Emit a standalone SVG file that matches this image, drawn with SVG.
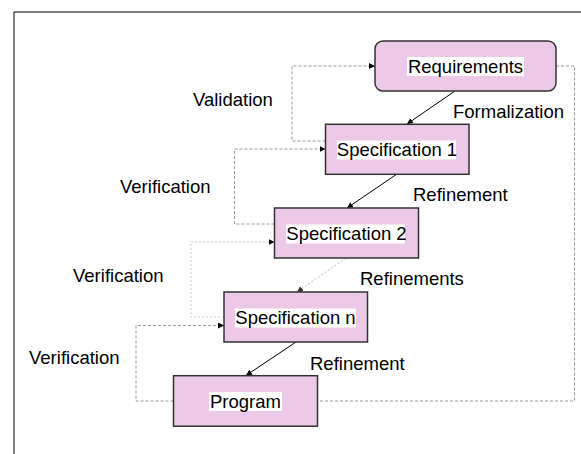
<svg xmlns="http://www.w3.org/2000/svg" width="581" height="454" viewBox="0 0 581 454">
  <style>
    .box { fill: #ecc9e6; stroke: #333; stroke-width: 1.5; }
    .txt { font-family: "Liberation Sans", Arial, sans-serif; font-size: 18.5px; fill: #000; }
    .mid { text-anchor: middle; }
    .hl { fill: #fff; }
    .flow { stroke: #000; stroke-width: 1; fill: none; marker-end: url(#arrow); }
    .flow-faint { stroke: #bbb; stroke-width: 1; fill: none; stroke-dasharray: 2 2; marker-end: url(#arrow-faint); }
    .loop { stroke: #9a9a9a; stroke-width: 1; fill: none; stroke-dasharray: 3 2; marker-end: url(#arrow); }
    .loop-open { stroke: #9a9a9a; stroke-width: 1; fill: none; stroke-dasharray: 3 2; }
    .loop-faint { stroke: #d0d0d0; stroke-width: 1; fill: none; stroke-dasharray: 2 2; marker-end: url(#arrow); }
  </style>
  <defs>
    <marker id="arrow" viewBox="0 0 10 10" refX="10" refY="5" markerWidth="6" markerHeight="6" markerUnits="userSpaceOnUse" orient="auto">
      <path d="M0,0 L10,5 L0,10 z" fill="#000"/>
    </marker>
    <marker id="arrow-faint" viewBox="0 0 10 10" refX="10" refY="5" markerWidth="6" markerHeight="6" markerUnits="userSpaceOnUse" orient="auto">
      <path d="M0,0 L10,5 L0,10 z" fill="#333"/>
    </marker>
  </defs>

  <rect width="581" height="454" fill="#fff"/>
  <!-- page frame -->
  <path d="M14,454 V12 H581" fill="none" stroke="#000" stroke-width="1"/>

  <g id="connectors">
    <!-- refinement chain -->
    <line class="flow" x1="455" y1="91" x2="407" y2="124"/>
    <line class="flow" x1="397" y1="174" x2="347" y2="208"/>
    <line class="flow-faint" x1="346" y1="258" x2="297" y2="292"/>
    <line class="flow" x1="296" y1="342" x2="246" y2="375.5"/>
    <!-- validation / verification loops -->
    <path class="loop" d="M325.5,141 H292 V66 H375"/>
    <path class="loop" d="M274.5,224 H234.5 V149 H325.5"/>
    <path class="loop-faint" d="M224,317 H191 V242 H274.5"/>
    <path class="loop" d="M173.5,401 H136 V325.5 H224"/>
    <path class="loop-open" d="M556,66 H574.5 V401 H317.5"/>
  </g>

  <g id="requirements">
    <rect class="box" x="375" y="41" width="181" height="50" rx="8"/>
    <rect class="hl" x="407" y="57" width="117" height="19"/>
    <text class="txt mid" x="465.5" y="72.5">Requirements</text>
  </g>

  <g id="specification-1">
    <rect class="box" x="325.5" y="124.3" width="143.5" height="50"/>
    <rect class="hl" x="337" y="140.5" width="119" height="19"/>
    <text class="txt mid" x="397" y="156">Specification 1</text>
  </g>

  <g id="specification-2">
    <rect class="box" x="274.5" y="208" width="144" height="50"/>
    <rect class="hl" x="286" y="224.5" width="119" height="19"/>
    <text class="txt mid" x="346.5" y="240">Specification 2</text>
  </g>

  <g id="specification-n">
    <rect class="box" x="224" y="292" width="143.5" height="50"/>
    <rect class="hl" x="235" y="308.5" width="121" height="19"/>
    <text class="txt mid" x="295.5" y="324">Specification n</text>
  </g>

  <g id="program">
    <rect class="box" x="173.5" y="375.7" width="144" height="50.5"/>
    <rect class="hl" x="209" y="392" width="73" height="19"/>
    <text class="txt mid" x="245.5" y="407.5">Program</text>
  </g>

  <g id="labels">
    <text class="txt" x="193" y="106">Validation</text>
    <text class="txt" x="453" y="118">Formalization</text>
    <text class="txt" x="120" y="193">Verification</text>
    <text class="txt" x="413" y="201">Refinement</text>
    <text class="txt" x="73" y="281.5">Verification</text>
    <text class="txt" x="360" y="285">Refinements</text>
    <text class="txt" x="29" y="364">Verification</text>
    <text class="txt" x="310" y="370">Refinement</text>
  </g>
</svg>
